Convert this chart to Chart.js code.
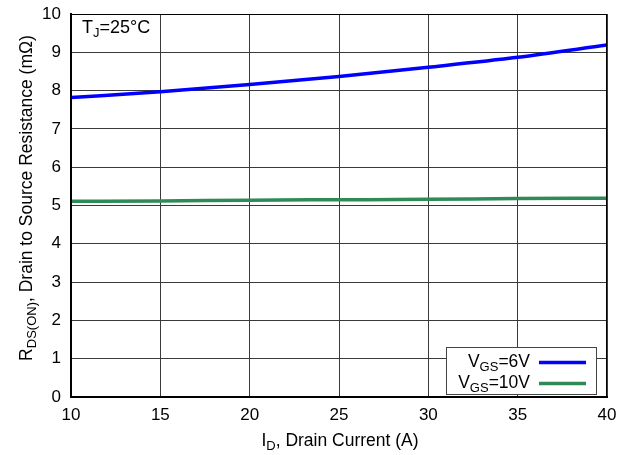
<!DOCTYPE html>
<html>
<head>
<meta charset="utf-8">
<title>RDS(ON) vs ID</title>
<script src="https://cdn.jsdelivr.net/npm/chart.js@4/dist/chart.umd.min.js"></script>
<style>
    html, body { margin: 0; padding: 0; background: #fff; }
    #wrap { width: 630px; height: 455px; }
</style>
</head>
<body>
<div id="wrap"><canvas id="rdsChart" width="630" height="455"></canvas></div>
<script>
'use strict';

// ── Datos ─────────────────────────────────────────────────
const drainCurrent = [10, 15, 20, 25, 30, 35, 40];
const rdsVgs6  = [7.82, 7.97, 8.16, 8.37, 8.61, 8.87, 9.19];
const rdsVgs10 = [5.11, 5.12, 5.14, 5.15, 5.16, 5.18, 5.19];
const xTicks = [10, 15, 20, 25, 30, 35, 40];
const yTicks = [0, 1, 2, 3, 4, 5, 6, 7, 8, 9, 10];

const FONT = '"Liberation Sans", Arial, Helvetica, sans-serif';
const colors = { blue: '#0000ff', green: '#2e8b57', grid: '#3a3a3a' };

// ── Texto con subíndices en canvas ────────────────────────
// parts: [[texto, esSub], ...]
function measureParts(ctx, parts, size, subSize) {
    let w = 0;
    parts.forEach(([t, sub]) => {
        ctx.font = `${sub ? subSize : size}px ${FONT}`;
        w += ctx.measureText(t).width;
    });
    return w;
}

function drawParts(ctx, parts, x, y, size, subSize, align = 'left') {
    const total = measureParts(ctx, parts, size, subSize);
    let cx = align === 'right' ? x - total : align === 'center' ? x - total / 2 : x;
    ctx.textAlign = 'left';
    ctx.textBaseline = 'alphabetic';
    ctx.fillStyle = '#000';
    parts.forEach(([t, sub]) => {
        ctx.font = `${sub ? subSize : size}px ${FONT}`;
        ctx.fillText(t, cx, sub ? y + 4 : y);
        cx += ctx.measureText(t).width;
    });
}

const toPoints = ys => drainCurrent.map((x, i) => ({ x, y: ys[i] }));

// ── Títulos, anotación y leyenda ──────────────────────────
const labelsPlugin = {
    id: 'labels',
    afterDraw(chart) {
        const { ctx, chartArea: a } = chart;
        ctx.save();

        // marco superior y derecho
        ctx.strokeStyle = '#000';
        ctx.lineWidth = 1;
        ctx.strokeRect(a.left + 0.5, a.top + 0.5, a.right - a.left - 1, a.bottom - a.top);

        // eje X
        drawParts(ctx, [['I', false], ['D', true], [', Drain Current (A)', false]],
            340, 446, 17.5, 13, 'center');

        // eje Y (rotado)
        ctx.save();
        ctx.translate(32, 198);
        ctx.rotate(-Math.PI / 2);
        drawParts(ctx, [['R', false], ['DS(ON)', true], [', Drain to Source Resistance (m\u03A9)', false]],
            0, 0, 17.5, 13, 'center');
        ctx.restore();

        // anotación de temperatura
        drawParts(ctx, [['T', false], ['J', true], ['=25\u00B0C', false]], a.left + 11, 33, 18, 13);

        // leyenda
        const lx = 446, ly = 347, lw = 150, lh = 47;
        ctx.fillStyle = '#fff';
        ctx.fillRect(lx, ly, lw, lh);
        ctx.strokeStyle = '#444';
        ctx.lineWidth = 1;
        ctx.strokeRect(lx + 0.5, ly + 0.5, lw, lh);

        const rows = [
            { parts: [['V', false], ['GS', true], ['=6V', false]], color: colors.blue, y: 367 },
            { parts: [['V', false], ['GS', true], ['=10V', false]], color: colors.green, y: 388 },
        ];
        rows.forEach(r => {
            drawParts(ctx, r.parts, 530, r.y, 17.5, 13, 'right');
            ctx.strokeStyle = r.color;
            ctx.lineWidth = 3.5;
            ctx.beginPath();
            ctx.moveTo(539, r.y - 4.5);
            ctx.lineTo(586, r.y - 4.5);
            ctx.stroke();
        });

        ctx.restore();
    }
};

// ── Gráfico ───────────────────────────────────────────────
new Chart(document.getElementById('rdsChart'), {
    type: 'line',
    data: {
        datasets: [
            { label: 'VGS=6V',  data: toPoints(rdsVgs6),  borderColor: colors.blue,  borderWidth: 3.5 },
            { label: 'VGS=10V', data: toPoints(rdsVgs10), borderColor: colors.green, borderWidth: 3.5 },
        ]
    },
    options: {
        responsive: false,
        animation: false,
        layout: { padding: { left: 0, right: 23, top: 14, bottom: 0 } },
        elements: {
            point: { radius: 0 },
            line: { cubicInterpolationMode: 'monotone', fill: false }
        },
        plugins: {
            legend: { display: false },
            tooltip: { enabled: false }
        },
        scales: {
            x: {
                type: 'linear',
                min: xTicks[0],
                max: xTicks[xTicks.length - 1],
                afterBuildTicks: s => { s.ticks = xTicks.map(v => ({ value: v })); },
                afterFit: s => { s.height = 58; s.paddingLeft = 0; s.paddingRight = 0; },
                ticks: { color: '#000', font: { family: FONT, size: 17 }, padding: 8, maxRotation: 0 },
                grid: { color: colors.grid, lineWidth: 1, drawTicks: false },
                border: { color: '#000', width: 2 }
            },
            y: {
                type: 'linear',
                min: yTicks[0],
                max: yTicks[yTicks.length - 1],
                afterBuildTicks: s => { s.ticks = yTicks.map(v => ({ value: v })); },
                afterFit: s => { s.width = 71; s.paddingTop = 0; s.paddingBottom = 0; },
                ticks: { color: '#000', font: { family: FONT, size: 17 }, padding: 10 },
                grid: { color: colors.grid, lineWidth: 1, drawTicks: false },
                border: { color: '#000', width: 2 }
            }
        }
    },
    plugins: [labelsPlugin]
});
</script>
</body>
</html>
